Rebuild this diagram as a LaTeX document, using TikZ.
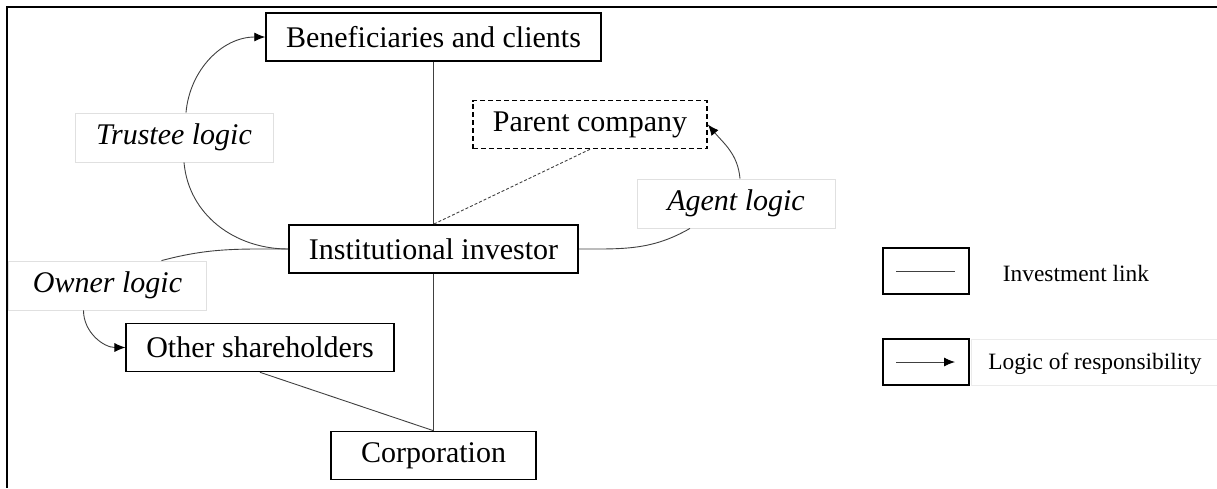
\documentclass[tikz,border=0pt]{standalone}
\usepackage{fontspec}
\setmainfont{Liberation Serif}
\usetikzlibrary{arrows.meta}
\tikzset{entity/.style={draw, line width=0.8pt, fill=white, inner xsep=10pt,
        minimum height=24pt, font=\fontsize{15}{18}\selectfont},
    parentbox/.style={entity, dash pattern=on 2.5pt off 1.5pt},
    logicbox/.style={draw=black!12, fill=white, minimum width=99pt,
        minimum height=24.5pt, font=\fontsize{15}{18}\selectfont\itshape},
    link/.style={draw=black!75, line width=0.45pt},
    resp/.style={link, -{Latex[length=5.5pt,width=4.5pt,black]}},
    keybox/.style={draw, line width=1pt, minimum width=43pt, minimum height=23pt},
    keytext/.style={font=\fontsize{11.7}{14}\selectfont}
}

\begin{document}
\begin{tikzpicture}[x=0.5pt,y=-0.5pt]
            \useasboundingbox (0,0) rectangle (1217,488);
            % frame
            \draw[line width=1pt] (1217,7) -- (7,7) -- (7,488);
            % actors
            \node[entity] (ben) at (433.5,37) {Beneficiaries and clients};
            \node[parentbox] (par) at (590,124.5) {Parent company};
            \node[entity] (inv) at (433.5,249) {Institutional investor};
            \node[entity] (oth) at (260,347.5) {Other shareholders};
            \node[entity, minimum width=102.5pt] (corp) at (433.5,455.5) {Corporation};
            % investment links
            \draw[link] (ben.south) to (inv.north);
            \draw[link] (inv.south) to (corp.north);
            \draw[link] (oth.south) to (corp.north);
            \draw[link, dash pattern=on 1.5pt off 1pt] (par.south) to (inv.north);
            % logics
            \node[logicbox] (trustee) at (174,137.5) {Trustee logic};
            \node[logicbox] (owner) at (107.5,285.5) {Owner logic};
            \node[logicbox] (agent) at (736,203.5) {Agent logic};
            \draw[link] (inv.west) to[out=180,in=-85] ([xshift=5pt]trustee.south);
            \draw[resp] ([xshift=6pt]trustee.north) to[out=85,in=180] (ben.west);
            \draw[link] (inv.west) to[out=180,in=15] ([xshift=27pt]owner.north);
            \draw[resp] ([xshift=-12pt]owner.south) to[out=-90,in=180] (oth.west);
            \draw[link] (inv.east) to[out=0,in=-150] ([xshift=-23pt]agent.south);
            \draw[resp] ([xshift=2pt]agent.north) to[out=95,in=-50] (par.east);
            % key
            \node[keybox] (keyinv) at (926,271) {};
            \node[keybox] (keyresp) at (926,362) {};
            \draw[link] ([xshift=7pt]keyinv.west) to ([xshift=-7.5pt]keyinv.east);
            \draw[resp] ([xshift=7pt]keyresp.west) to ([xshift=-7.5pt]keyresp.east);
            \node[keytext] (invtext) at (1076,273) {Investment link};
            \node[draw=black!8, anchor=west, minimum width=125pt, minimum height=23pt] (respframe) at (971,362) {};
            \node[keytext] (resptext) at (1095,364) {Logic of responsibility};
        \end{tikzpicture}
\end{document}
